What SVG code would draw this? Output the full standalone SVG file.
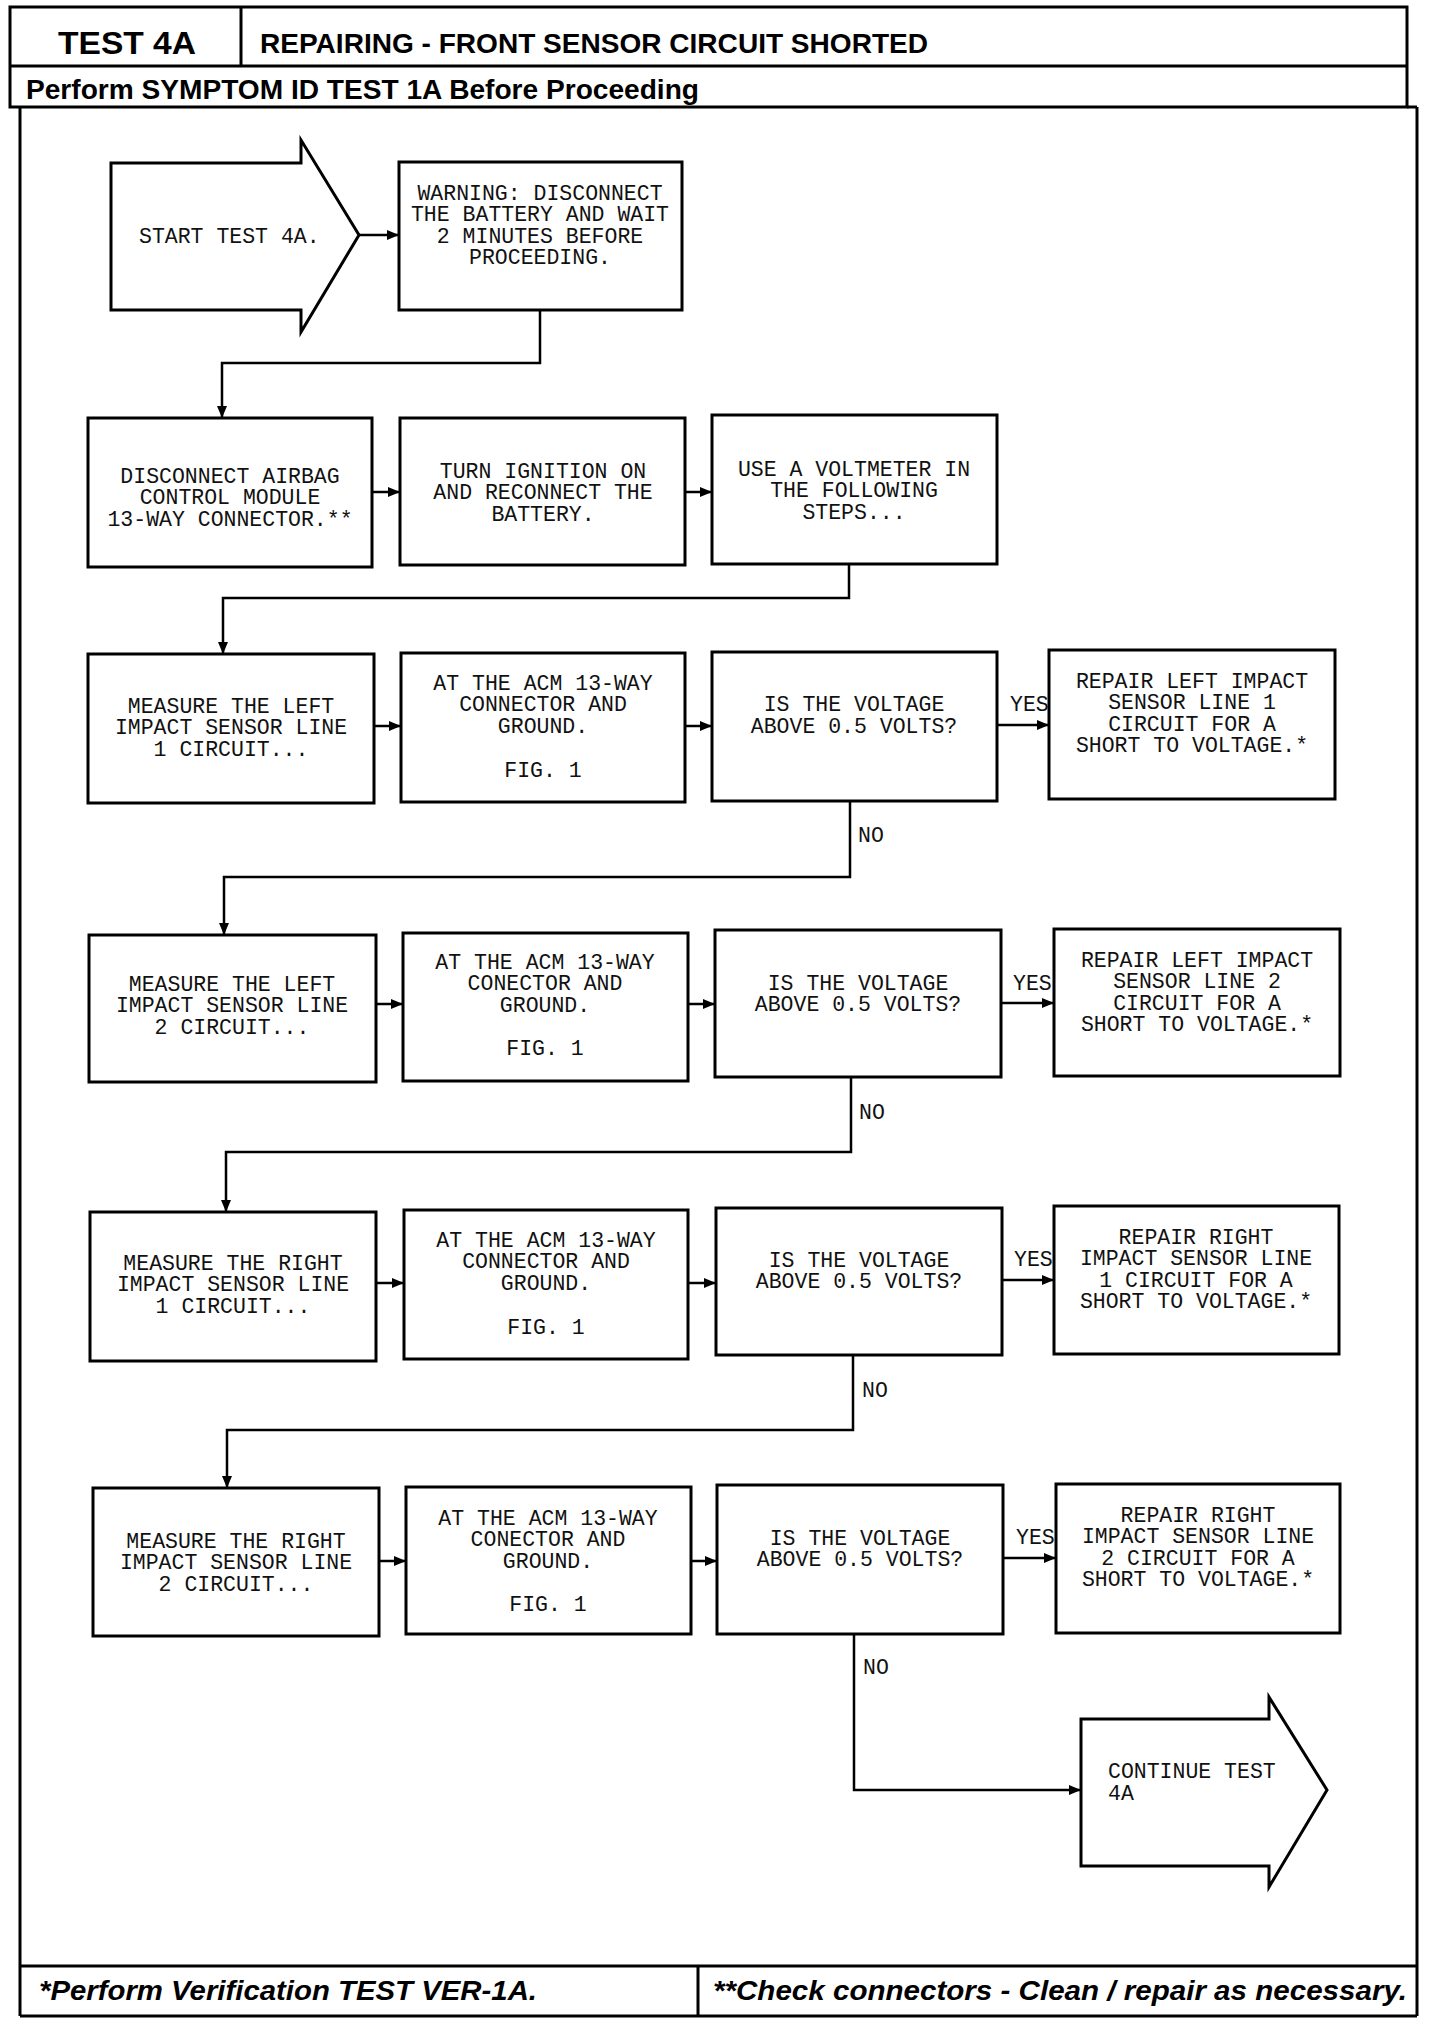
<svg xmlns="http://www.w3.org/2000/svg" width="1440" height="2026" viewBox="0 0 1440 2026">
<defs>
<marker id="ah" markerUnits="userSpaceOnUse" markerWidth="12" markerHeight="10" refX="11" refY="5" orient="auto">
<path d="M0,0 L12,5 L0,10 z" fill="#000"/>
</marker>
<style>
.frame{fill:none;stroke:#000;stroke-width:3}
.box{fill:#fff;stroke:#000;stroke-width:3}
.conn{fill:none;stroke:#000;stroke-width:2.5}
.t{font-family:"Liberation Mono","DejaVu Sans Mono",monospace;font-size:21.5px;fill:#111}
.c{text-anchor:middle}
.hb{font-family:"Liberation Sans",Arial,sans-serif;font-weight:bold;fill:#000}
.fi{font-family:"Liberation Sans",Arial,sans-serif;font-weight:bold;font-style:italic;fill:#000;font-size:28px}
</style>
</defs>
<rect width="1440" height="2026" fill="#fff"/>

<g id="frame">
<rect class="frame" x="10" y="7" width="1397" height="100"/>
<line class="frame" x1="10" y1="66" x2="1407" y2="66"/>
<line class="frame" x1="241" y1="7" x2="241" y2="66"/>
<line class="frame" x1="20" y1="107" x2="20" y2="2016"/>
<line class="frame" x1="1417" y1="107" x2="1417" y2="2016"/>
<line class="frame" x1="1407" y1="107" x2="1417" y2="107"/>
<line class="frame" x1="20" y1="1966" x2="1417" y2="1966"/>
<line class="frame" x1="20" y1="2016" x2="1417" y2="2016"/>
<line class="frame" x1="698" y1="1966" x2="698" y2="2016"/>
<text class="hb" x="58" y="54" font-size="32" textLength="138" lengthAdjust="spacingAndGlyphs">TEST 4A</text>
<text class="hb" x="260" y="53" font-size="28" textLength="668" lengthAdjust="spacingAndGlyphs">REPAIRING - FRONT SENSOR CIRCUIT SHORTED</text>
<text class="hb" x="26" y="99" font-size="27" textLength="673" lengthAdjust="spacingAndGlyphs">Perform SYMPTOM ID TEST 1A Before Proceeding</text>
<text class="fi" x="39" y="2000" textLength="498" lengthAdjust="spacingAndGlyphs">*Perform Verification TEST VER-1A.</text>
<text class="fi" x="713" y="2000" textLength="694" lengthAdjust="spacingAndGlyphs">**Check connectors - Clean / repair as necessary.</text>
</g>

<g id="connectors">
<path class="conn" d="M359,235 H398" marker-end="url(#ah)"/>
<path class="conn" d="M540,310 V363 H222 V417" marker-end="url(#ah)"/>
<path class="conn" d="M372,492 H399" marker-end="url(#ah)"/>
<path class="conn" d="M685,492 H711" marker-end="url(#ah)"/>
<path class="conn" d="M849,564 V598 H223 V653" marker-end="url(#ah)"/>
<path class="conn" d="M374,726 H400" marker-end="url(#ah)"/>
<path class="conn" d="M685,726 H711" marker-end="url(#ah)"/>
<path class="conn" d="M997,725 H1048" marker-end="url(#ah)"/>
<path class="conn" d="M850,801 V877 H224 V934" marker-end="url(#ah)"/>
<path class="conn" d="M376,1004 H402" marker-end="url(#ah)"/>
<path class="conn" d="M688,1004 H714" marker-end="url(#ah)"/>
<path class="conn" d="M1001,1003 H1053" marker-end="url(#ah)"/>
<path class="conn" d="M851,1077 V1152 H226 V1211" marker-end="url(#ah)"/>
<path class="conn" d="M376,1283 H403" marker-end="url(#ah)"/>
<path class="conn" d="M688,1283 H715" marker-end="url(#ah)"/>
<path class="conn" d="M1002,1280 H1053" marker-end="url(#ah)"/>
<path class="conn" d="M853,1355 V1430 H227 V1487" marker-end="url(#ah)"/>
<path class="conn" d="M379,1561 H405" marker-end="url(#ah)"/>
<path class="conn" d="M691,1561 H716" marker-end="url(#ah)"/>
<path class="conn" d="M1003,1558 H1055" marker-end="url(#ah)"/>
<path class="conn" d="M854,1634 V1790 H1080" marker-end="url(#ah)"/>
<text class="t" x="1010" y="711">YES</text>
<text class="t" x="1013" y="990">YES</text>
<text class="t" x="1014" y="1266">YES</text>
<text class="t" x="1016" y="1544">YES</text>
<text class="t" x="858" y="842">NO</text>
<text class="t" x="859" y="1119">NO</text>
<text class="t" x="862" y="1397">NO</text>
<text class="t" x="863" y="1674">NO</text>
</g>

<g id="start">
<path class="box" d="M111,163 H301 V140 L359,235 L301,332 V310 H111 Z"/>
<text class="t" x="139" y="243">START TEST 4A.</text>
</g>

<g id="warning">
<rect class="box" x="399" y="162" width="283" height="148"/>
<text class="t c" x="540" y="200">WARNING: DISCONNECT</text>
<text class="t c" x="540" y="221">THE BATTERY AND WAIT</text>
<text class="t c" x="540" y="243">2 MINUTES BEFORE</text>
<text class="t c" x="540" y="264">PROCEEDING.</text>
</g>

<g id="disconnect">
<rect class="box" x="88" y="418" width="284" height="149"/>
<text class="t c" x="230" y="483">DISCONNECT AIRBAG</text>
<text class="t c" x="230" y="504">CONTROL MODULE</text>
<text class="t c" x="230" y="526">13-WAY CONNECTOR.**</text>
</g>
<g id="ignition">
<rect class="box" x="400" y="418" width="285" height="147"/>
<text class="t c" x="543" y="478">TURN IGNITION ON</text>
<text class="t c" x="543" y="499">AND RECONNECT THE</text>
<text class="t c" x="543" y="521">BATTERY.</text>
</g>
<g id="voltmeter">
<rect class="box" x="712" y="415" width="285" height="149"/>
<text class="t c" x="854" y="476">USE A VOLTMETER IN</text>
<text class="t c" x="854" y="497">THE FOLLOWING</text>
<text class="t c" x="854" y="519">STEPS...</text>
</g>

<g id="measure-l1">
<rect class="box" x="88" y="654" width="286" height="149"/>
<text class="t c" x="231" y="713">MEASURE THE LEFT</text>
<text class="t c" x="231" y="734">IMPACT SENSOR LINE</text>
<text class="t c" x="231" y="756">1 CIRCUIT...</text>
</g>
<g id="acm-l1">
<rect class="box" x="401" y="653" width="284" height="149"/>
<text class="t c" x="543" y="690">AT THE ACM 13-WAY</text>
<text class="t c" x="543" y="711">CONNECTOR AND</text>
<text class="t c" x="543" y="733">GROUND.</text>
<text class="t c" x="543" y="777">FIG. 1</text>
</g>
<g id="volt-l1">
<rect class="box" x="712" y="652" width="285" height="149"/>
<text class="t c" x="854" y="711">IS THE VOLTAGE</text>
<text class="t c" x="854" y="733">ABOVE 0.5 VOLTS?</text>
</g>
<g id="repair-l1">
<rect class="box" x="1049" y="650" width="286" height="149"/>
<text class="t c" x="1192" y="688">REPAIR LEFT IMPACT</text>
<text class="t c" x="1192" y="709">SENSOR LINE 1</text>
<text class="t c" x="1192" y="731">CIRCUIT FOR A</text>
<text class="t c" x="1192" y="752">SHORT TO VOLTAGE.*</text>
</g>

<g id="measure-l2">
<rect class="box" x="89" y="935" width="287" height="147"/>
<text class="t c" x="232" y="991">MEASURE THE LEFT</text>
<text class="t c" x="232" y="1012">IMPACT SENSOR LINE</text>
<text class="t c" x="232" y="1034">2 CIRCUIT...</text>
</g>
<g id="acm-l2">
<rect class="box" x="403" y="933" width="285" height="148"/>
<text class="t c" x="545" y="969">AT THE ACM 13-WAY</text>
<text class="t c" x="545" y="990">CONECTOR AND</text>
<text class="t c" x="545" y="1012">GROUND.</text>
<text class="t c" x="545" y="1055">FIG. 1</text>
</g>
<g id="volt-l2">
<rect class="box" x="715" y="930" width="286" height="147"/>
<text class="t c" x="858" y="990">IS THE VOLTAGE</text>
<text class="t c" x="858" y="1011">ABOVE 0.5 VOLTS?</text>
</g>
<g id="repair-l2">
<rect class="box" x="1054" y="929" width="286" height="147"/>
<text class="t c" x="1197" y="967">REPAIR LEFT IMPACT</text>
<text class="t c" x="1197" y="988">SENSOR LINE 2</text>
<text class="t c" x="1197" y="1010">CIRCUIT FOR A</text>
<text class="t c" x="1197" y="1031">SHORT TO VOLTAGE.*</text>
</g>

<g id="measure-r1">
<rect class="box" x="90" y="1212" width="286" height="149"/>
<text class="t c" x="233" y="1270">MEASURE THE RIGHT</text>
<text class="t c" x="233" y="1291">IMPACT SENSOR LINE</text>
<text class="t c" x="233" y="1313">1 CIRCUIT...</text>
</g>
<g id="acm-r1">
<rect class="box" x="404" y="1210" width="284" height="149"/>
<text class="t c" x="546" y="1247">AT THE ACM 13-WAY</text>
<text class="t c" x="546" y="1268">CONNECTOR AND</text>
<text class="t c" x="546" y="1290">GROUND.</text>
<text class="t c" x="546" y="1334">FIG. 1</text>
</g>
<g id="volt-r1">
<rect class="box" x="716" y="1208" width="286" height="147"/>
<text class="t c" x="859" y="1267">IS THE VOLTAGE</text>
<text class="t c" x="859" y="1288">ABOVE 0.5 VOLTS?</text>
</g>
<g id="repair-r1">
<rect class="box" x="1054" y="1206" width="285" height="148"/>
<text class="t c" x="1196" y="1244">REPAIR RIGHT</text>
<text class="t c" x="1196" y="1265">IMPACT SENSOR LINE</text>
<text class="t c" x="1196" y="1287">1 CIRCUIT FOR A</text>
<text class="t c" x="1196" y="1308">SHORT TO VOLTAGE.*</text>
</g>

<g id="measure-r2">
<rect class="box" x="93" y="1488" width="286" height="148"/>
<text class="t c" x="236" y="1548">MEASURE THE RIGHT</text>
<text class="t c" x="236" y="1569">IMPACT SENSOR LINE</text>
<text class="t c" x="236" y="1591">2 CIRCUIT...</text>
</g>
<g id="acm-r2">
<rect class="box" x="406" y="1487" width="285" height="147"/>
<text class="t c" x="548" y="1525">AT THE ACM 13-WAY</text>
<text class="t c" x="548" y="1546">CONECTOR AND</text>
<text class="t c" x="548" y="1568">GROUND.</text>
<text class="t c" x="548" y="1611">FIG. 1</text>
</g>
<g id="volt-r2">
<rect class="box" x="717" y="1485" width="286" height="149"/>
<text class="t c" x="860" y="1545">IS THE VOLTAGE</text>
<text class="t c" x="860" y="1566">ABOVE 0.5 VOLTS?</text>
</g>
<g id="repair-r2">
<rect class="box" x="1056" y="1484" width="284" height="149"/>
<text class="t c" x="1198" y="1522">REPAIR RIGHT</text>
<text class="t c" x="1198" y="1543">IMPACT SENSOR LINE</text>
<text class="t c" x="1198" y="1565">2 CIRCUIT FOR A</text>
<text class="t c" x="1198" y="1586">SHORT TO VOLTAGE.*</text>
</g>

<g id="continue">
<path class="box" d="M1081,1719 H1269 V1697 L1327,1790 L1269,1887 V1866 H1081 Z"/>
<text class="t" x="1108" y="1778">CONTINUE TEST</text>
<text class="t" x="1108" y="1800">4A</text>
</g>
</svg>
